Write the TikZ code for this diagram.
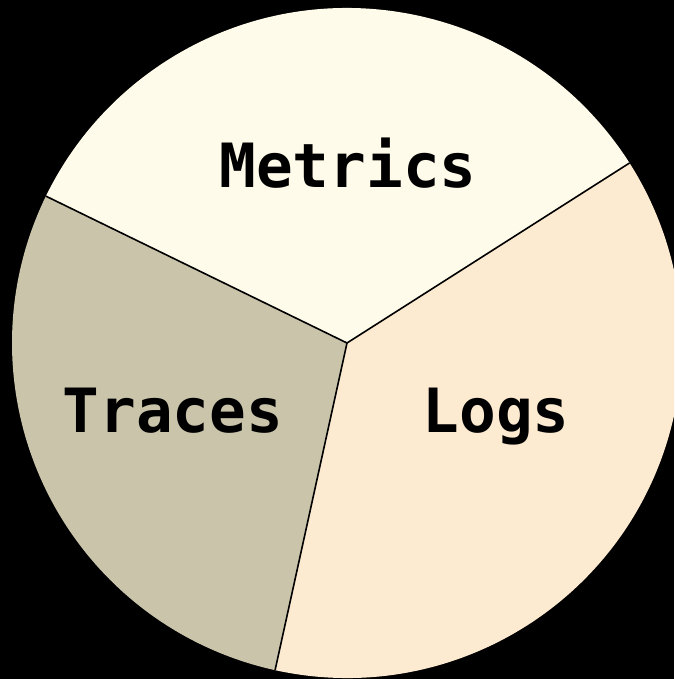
\documentclass[tikz,border=0pt]{standalone}
\usepackage{fontspec}
\newfontfamily\labelfont{DejaVu Sans Mono}
\definecolor{metricsc}{HTML}{FFFBEA}
\definecolor{logsc}{HTML}{FDEBD1}
\definecolor{tracesc}{HTML}{C9C4AA}
\begin{document}
\begin{tikzpicture}[x=1pt,y=1pt,
  lbl/.style={font=\labelfont\bfseries\fontsize{61}{61}\selectfont, text=black, inner sep=0pt, anchor=base},
  divider/.style={draw=black, line width=1.6pt}]
\fill[black] (0,0) rectangle (674,679);
\useasboundingbox (0,0) rectangle (674,679);
\coordinate (c) at (347,336);
\def\R{335}
\begin{scope}
\clip (0,0) rectangle (674,679);
\fill[metricsc] (c) -- ++(32.5:\R) arc[start angle=32.5, end angle=154, radius=\R] -- cycle;
\fill[tracesc] (c) -- ++(154:\R) arc[start angle=154, end angle=257.6, radius=\R] -- cycle;
\fill[logsc] (c) -- ++(257.6:\R) arc[start angle=257.6, end angle=392.5, radius=\R] -- cycle;
\end{scope}
\path (c) ++(154:\R) coordinate (pul);
\path (c) ++(32.5:\R) coordinate (pur);
\path (c) ++(257.6:\R) coordinate (pb);
\draw[divider] (c) -- (pul);
\draw[divider] (c) -- (pur);
\draw[divider] (c) -- (pb);
\node[lbl] (metrics) at (348,491) {Metrics};
\node[lbl] (traces) at (173,246) {Traces};
\node[lbl] (logs) at (496,246) {Logs};
\end{tikzpicture}
\end{document}
